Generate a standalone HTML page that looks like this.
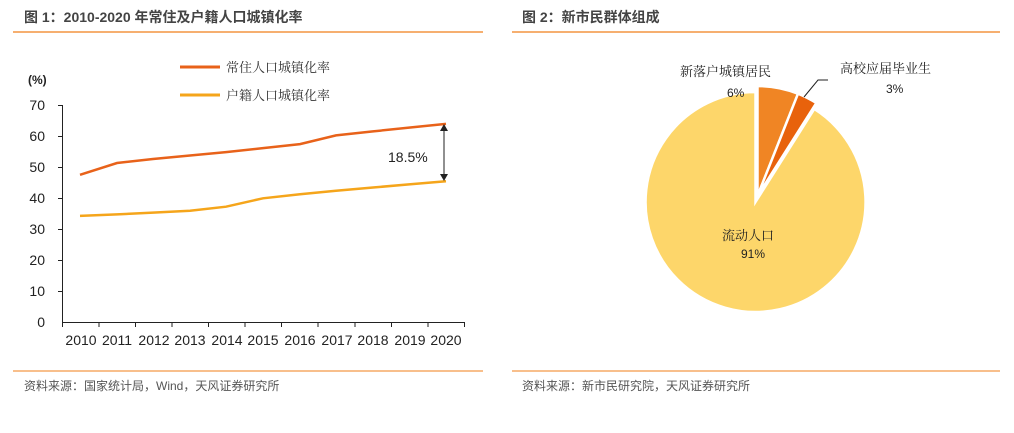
<!DOCTYPE html><html><head><meta charset="utf-8"><style>
body{margin:0;width:1014px;height:433px;background:#fff;font-family:"Liberation Sans","Noto Sans CJK SC",sans-serif;overflow:hidden}
svg{position:absolute;left:0;top:0}
.s{font-family:"Noto Serif CJK SC",serif}
</style></head><body>
<svg width="1014" height="433" style="font-family:'Liberation Sans','Noto Sans CJK SC',sans-serif">
<text x="24" y="22" font-size="14" font-weight="bold" fill="#444">图 1：2010-2020 年常住及户籍人口城镇化率</text>
<line x1="13" y1="32" x2="483" y2="32" stroke="#F07F1A" stroke-width="1.2"/>
<text x="522" y="22" font-size="14" font-weight="bold" fill="#444">图 2：新市民群体组成</text>
<line x1="512" y1="32" x2="1000" y2="32" stroke="#F07F1A" stroke-width="1.2"/>
<line x1="13" y1="371" x2="483" y2="371" stroke="#F07F1A" stroke-width="1"/>
<line x1="512" y1="371" x2="1000" y2="371" stroke="#F07F1A" stroke-width="1"/>
<text x="24" y="390" font-size="12" fill="#555">资料来源：国家统计局，Wind，天风证券研究所</text>
<text x="522" y="390" font-size="12" fill="#555">资料来源：新市民研究院，天风证券研究所</text>
<line x1="180" y1="67" x2="220" y2="67" stroke="#E8621A" stroke-width="3"/>
<text x="226" y="72" font-size="13" fill="#333" class="s">常住人口城镇化率</text>
<line x1="180" y1="95" x2="220" y2="95" stroke="#F5A51B" stroke-width="3"/>
<text x="226" y="100" font-size="13" fill="#333" class="s">户籍人口城镇化率</text>
<text x="28" y="84" font-size="12" font-weight="bold" fill="#222">(%)</text>
<g stroke="#222" stroke-width="1" fill="none">
<path d="M58 105.5H62.5V322.5H465"/>
<path d="M58 136.5H62 M58 167.5H62 M58 198.5H62 M58 229.5H62 M58 260.5H62 M58 291.5H62"/>
<path d="M62.5 322V327 M99 322V327 M135.5 322V327 M172 322V327 M208.5 322V327 M245 322V327 M281.5 322V327 M318 322V327 M355 322V327 M391.5 322V327 M428 322V327 M464.5 322V327"/>
</g>
<g font-size="14" fill="#222" text-anchor="end">
<text x="45" y="110">70</text><text x="45" y="141">60</text><text x="45" y="172">50</text><text x="45" y="203">40</text><text x="45" y="234">30</text><text x="45" y="265">20</text><text x="45" y="296">10</text><text x="45" y="327">0</text>
</g>
<g font-size="14" fill="#222" text-anchor="middle">
<text x="81" y="345">2010</text><text x="117" y="345">2011</text><text x="154" y="345">2012</text><text x="190" y="345">2013</text><text x="227" y="345">2014</text><text x="263" y="345">2015</text><text x="300" y="345">2016</text><text x="337" y="345">2017</text><text x="373" y="345">2018</text><text x="410" y="345">2019</text><text x="446" y="345">2020</text>
</g>
<polyline fill="none" stroke="#E8621A" stroke-width="2.5" points="80,174.8 117,163 153,159 190,155.5 226,152.1 263,148.1 300,144.1 336,135.4 373,131.4 409,127.6 446,123.9"/>
<polyline fill="none" stroke="#F5A51B" stroke-width="2.5" points="80,215.9 117,214.4 153,212.6 190,210.7 226,206.7 263,198.3 300,194.3 336,190.7 373,187.5 409,184.4 446,181.3"/>
<line x1="444" y1="128" x2="444" y2="177" stroke="#222" stroke-width="1"/>
<path d="M440 131L444 124L448 131Z M440 174L444 181L448 174Z" fill="#222"/>
<text x="388" y="162" font-size="14" fill="#222">18.5%</text>
<path d="M755.5 202 L814.3 109 A110 110 0 1 1 755.5 92 Z" fill="#FDD66A" stroke="#fff" stroke-width="2.5"/>
<path d="M757.5 196 L757.5 86 A110 110 0 0 1 798 93.7 Z" fill="#F08524" stroke="#fff" stroke-width="2.5"/>
<path d="M757.5 196 L798 93.7 A110 110 0 0 1 816.3 103 Z" fill="#E8620C" stroke="#fff" stroke-width="2.5"/>
<polyline points="804,97 818,80 828,80" fill="none" stroke="#222" stroke-width="1"/>
<g font-size="13" fill="#222" class="s">
<text x="680" y="76">新落户城镇居民</text>
<text x="840" y="73">高校应届毕业生</text>
<text x="722" y="240">流动人口</text>
</g>
<g font-size="12" fill="#222">
<text x="727" y="97">6%</text>
<text x="886" y="93">3%</text>
<text x="741" y="258">91%</text>
</g>
</svg>
</body></html>
